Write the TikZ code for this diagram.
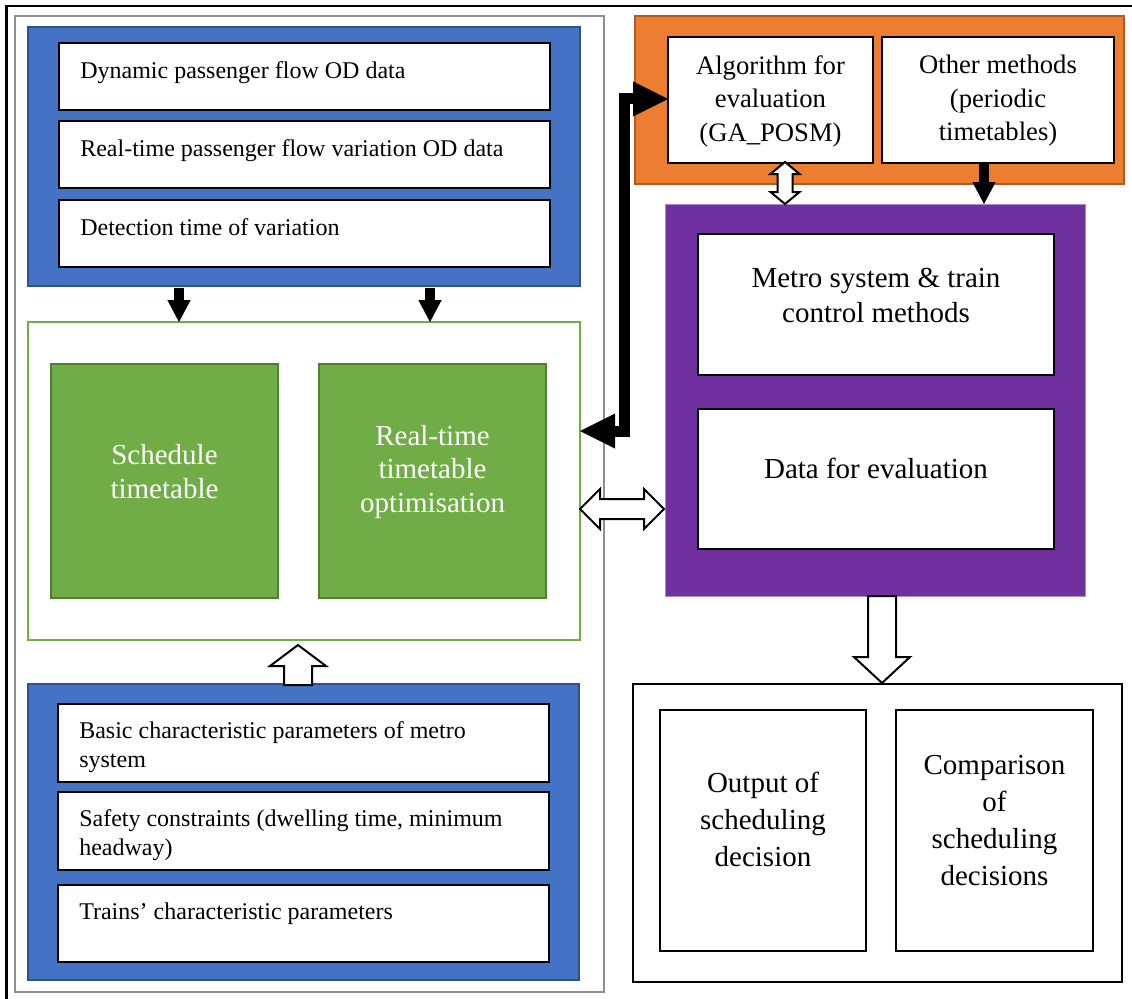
\documentclass[tikz,border=0pt]{standalone}
\usepackage{fontspec}
\setmainfont{Liberation Serif}
\usetikzlibrary{arrows.meta,calc,fit}

\definecolor{bluefill}{HTML}{4472C4}
\definecolor{blueedge}{HTML}{2F528F}
\definecolor{greenfill}{HTML}{70AD47}
\definecolor{greenedge}{HTML}{507E32}
\definecolor{orangefill}{HTML}{ED7D31}
\definecolor{orangeedge}{HTML}{AE5A21}
\definecolor{purplefill}{HTML}{7030A0}
\definecolor{purpleedge}{HTML}{A98BC8}
\definecolor{framegray}{HTML}{8F8F8F}

\tikzset{
  region/.style={inner sep=0pt, outer sep=0pt},
  bluepanel/.style={region, fill=bluefill, draw=blueedge, line width=1pt},
  itembox/.style={region, fill=white, draw=black, line width=1.8pt},
  greenpanel/.style={region, draw=greenfill, line width=1.5pt},
  greenbox/.style={region, fill=greenfill, draw=greenedge, line width=1.5pt},
  orangepanel/.style={region, fill=orangefill, draw=orangeedge, line width=1pt},
  purplepanel/.style={region, fill=purplefill, draw=purpleedge, line width=0.75pt},
  outpanel/.style={region, fill=white, draw=black, line width=1.6pt},
  itemtext/.style={inner sep=0pt, anchor=north west, align=left,
    font=\fontsize{18}{21.75}\selectfont},
  ctext/.style={inner sep=0pt, align=center},
  bigtext/.style={ctext, font=\fontsize{21.75}{#1}\selectfont},
  smalltitle/.style={ctext, font=\fontsize{20}{25.1}\selectfont},
  solidarrow/.style={line width=7.5pt,
    -{Triangle[length=16.5pt,width=17.5pt,line width=0pt]}},
  heavyarrow/.style={line width=8.25pt, line join=miter,
    {Triangle[length=26.25pt,width=26.25pt,line width=0pt]}-{Triangle[length=26.25pt,width=26.25pt,line width=0pt]}},
  hollow/.style={fill=white, draw=black, line width=1.5pt, line join=miter},
}

\begin{document}
\begin{tikzpicture}[x=0.75pt,y=-0.75pt]
\useasboundingbox (0,0) rectangle (1132,999);

% outer frames
\draw[line width=1.6pt] (1132,6) -- (6.5,6) -- (6.5,999);
\draw[framegray, line width=2pt] (15,16) rectangle (604,992);

% input data panel
\node[bluepanel, fit={(28,27) (580,286)}] (inputs) {};
\node[itembox, fit={(59,43) (550,110)}] (d1) {};
\node[itembox, fit={(59,121) (550,188)}] (d2) {};
\node[itembox, fit={(59,200) (550,267)}] (d3) {};
\node[itemtext] (d1t) at ($(d1.north west)+(21,18)$) {Dynamic passenger flow OD data};
\node[itemtext] (d2t) at ($(d2.north west)+(21,18)$) {Real-time passenger flow variation OD data};
\node[itemtext] (d3t) at ($(d3.north west)+(21,18)$) {Detection time of variation};

% timetable panel
\node[greenpanel, fit={(28,322) (580,640)}] (tt) {};
\node[greenbox, fit={(51,364) (278,598)}] (sched) {};
\node[greenbox, fit={(319,364) (546,598)}] (rtopt) {};
\node[bigtext=25.1pt, text=white] (schedt) at ($(sched.center)+(0,-9.5)$) {Schedule\\timetable};
\node[bigtext=25.1pt, text=white] (rtoptt) at ($(rtopt.center)+(0,-9)$) {Real-time\\timetable\\optimisation};

% parameter panel
\node[bluepanel, fit={(28,684) (579,980)}] (params) {};
\node[itembox, fit={(58,704) (549,782)}] (q1) {};
\node[itembox, fit={(58,792) (549,870)}] (q2) {};
\node[itembox, fit={(58,885) (549,962)}] (q3) {};
\node[itemtext] (q1t) at ($(q1.north west)+(21,17.6)$) {Basic characteristic parameters of metro\\system};
\node[itemtext] (q2t) at ($(q2.north west)+(21,17.6)$) {Safety constraints (dwelling time, minimum\\headway)};
\node[itemtext] (q3t) at ($(q3.north west)+(21,17.6)$) {Trains’ characteristic parameters};

% evaluation methods panel
\node[orangepanel, fit={(635,16) (1124,184)}] (methods) {};
\node[itembox, fit={(668,37) (873,163)}] (alg) {};
\node[itembox, fit={(882,37) (1114,163)}] (other) {};
\node[smalltitle] (algt) at ($(alg.center)+(0,1)$) {Algorithm for\\evaluation\\(GA\_POSM)};
\node[smalltitle] (othert) at ($(other.center)+(0,1)$) {Other methods\\(periodic\\timetables)};

% metro system panel
\node[purplepanel, fit={(665,204) (1085,596)}] (metro) {};
\node[itembox, fit={(698,234) (1054,375)}] (sys) {};
\node[itembox, fit={(698,409) (1054,549)}] (evdata) {};
\node[bigtext=26.25pt] (syst) at ($(sys.center)+(0,-9.5)$) {Metro system \& train\\control methods};
\node[bigtext=26.25pt] (evdatat) at ($(evdata.center)+(0,-10.5)$) {Data for evaluation};

% results panel
\node[outpanel, fit={(633,684) (1122,982)}] (results) {};
\node[outpanel, fit={(660,710) (866,951)}] (outdec) {};
\node[outpanel, fit={(896,710) (1093,951)}] (cmpdec) {};
\node[bigtext=27.75pt] (outdect) at ($(outdec.center)+(0,-11)$) {Output of\\scheduling\\decision};
\node[bigtext=27.75pt] (cmpdect) at ($(cmpdec.center)+(0,-10)$) {Comparison\\of\\scheduling\\decisions};

% solid connectors
\coordinate (c1) at (179,0);
\coordinate (c2) at (430,0);
\coordinate (c3) at (984,0);
\draw[solidarrow, shorten <=1.5pt] (inputs.south -| c1) -- (tt.north -| c1);
\draw[solidarrow, shorten <=1.5pt] (inputs.south -| c2) -- (tt.north -| c2);
\draw[solidarrow, line width=7.4pt] (other.south -| c3) -- (metro.north -| c3);

\coordinate (bend1) at (624,431);
\coordinate (bend2) at (624,99);
\draw[heavyarrow] (bend1 -| tt.east) -- (bend1) -- (bend2) -- (bend2 -| alg.west);

% block arrows
\draw[hollow] (284,685) -- (284,666) -- (270,666) -- (298,645) -- (326,666)
  -- (312,666) -- (312,685) -- cycle;
\draw[hollow] (785,162) -- (799.5,174) -- (792.5,174) -- (792.5,192)
  -- (799.5,192) -- (785,204) -- (770.5,192) -- (777.5,192) -- (777.5,174)
  -- (770.5,174) -- cycle;
\draw[hollow] (580,509) -- (600,489) -- (600,499) -- (644,499) -- (644,489)
  -- (664,509) -- (644,529) -- (644,519) -- (600,519) -- (600,529) -- cycle;
\draw[hollow] (868,596) -- (896,596) -- (896,657) -- (910,657) -- (882,683)
  -- (854,657) -- (868,657) -- cycle;
\end{tikzpicture}
\end{document}
